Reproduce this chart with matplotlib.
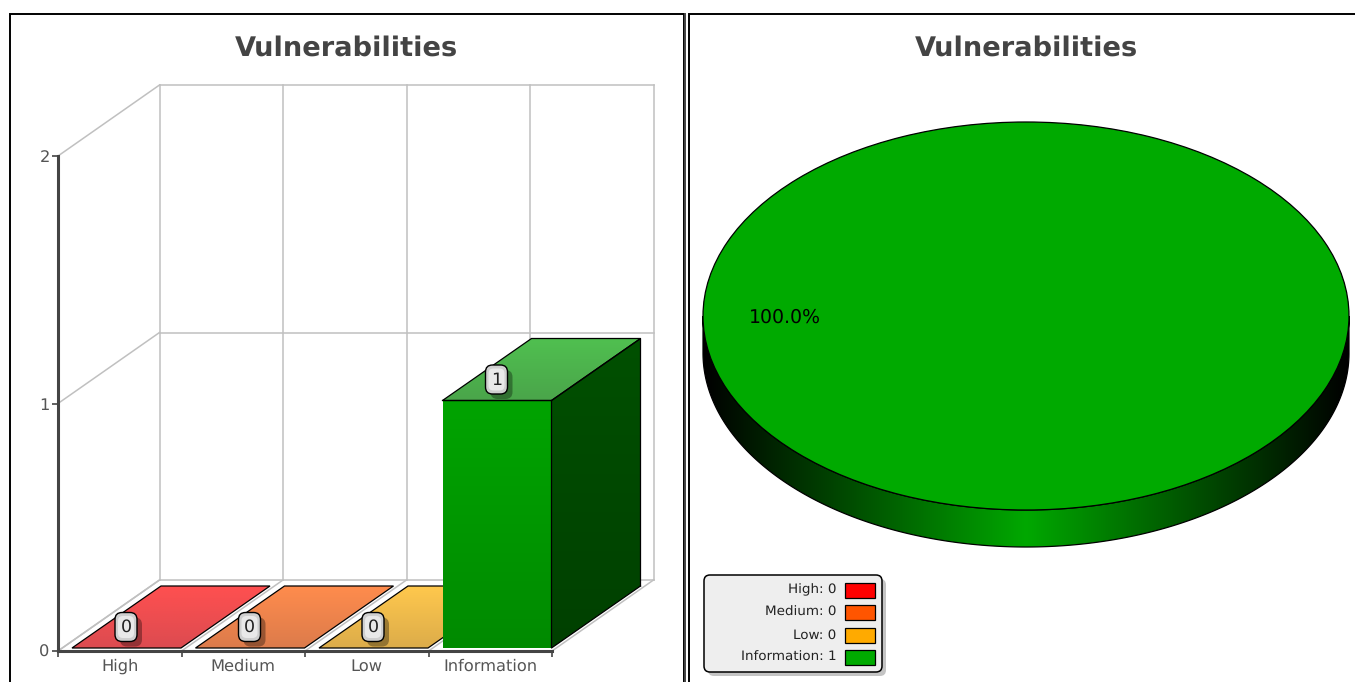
import matplotlib
matplotlib.use('Agg')
import matplotlib.pyplot as plt
import numpy as np
from matplotlib.colors import LinearSegmentedColormap
from matplotlib.patches import FancyBboxPatch, Polygon, Rectangle

plt.rcParams['text.hinting'] = 'no_hinting'

# Data
categories = ['High', 'Medium', 'Low', 'Information']
values = [0, 0, 0, 1]
y_ticks = [0, 1, 2]
pie_colors = ['#ff0000', '#ff5500', '#ffaa00', '#00aa00']
top_colors = [('#ff5050', '#dc4b50'), ('#ff8c4d', '#dc7b4b'),
              ('#ffc84d', '#dcac4a'), ('#50c050', '#4aa54a')]
title = 'Vulnerabilities'

W, H = 1355, 682
TEXT = '#555555'
GRID = '#c0c0c0'

fig = plt.figure(figsize=(W / 100, H / 100), dpi=100)


def px_axes(left, top, right, bottom):
    return fig.add_axes([left / W, 1 - bottom / H, (right - left) / W, (bottom - top) / H])


def gradient(ax, xy, colors, horizontal=False, zorder=2, steps=256):
    # fill a polygon with a linear gradient (vertical by default, first colour on top)
    xy = np.asarray(xy)
    cmap = LinearSegmentedColormap.from_list('g', colors)
    ramp = np.linspace(0, 1, steps)
    ramp = ramp.reshape(1, -1) if horizontal else ramp.reshape(-1, 1)
    extent = (xy[:, 0].min(), xy[:, 0].max(), xy[:, 1].min(), xy[:, 1].max())
    im = ax.imshow(ramp, cmap=cmap, extent=extent, origin='upper', aspect='auto',
                   zorder=zorder, interpolation='bilinear', vmin=0, vmax=1)
    # images fall back to the axes box unless they get a clip box of their own
    im.set_clip_box(fig.bbox)
    im.set_clip_path(Polygon(xy, closed=True, transform=ax.transData))


# Bar chart: the axes is the front plane of the 3D box, one x unit per category
ax = px_axes(58, 156, 552, 651)
ax.set_xlim(0, len(categories))
ax.set_ylim(0, 2)
unit_x = 494 / len(categories)
unit_y = 495 / 2

wall_dx, wall_dy = 101.5 / unit_x, 71 / unit_y
bar_dx, bar_dy = 89 / unit_x, 62 / unit_y
bar_off_x, bar_off_y = 14 / unit_x, 3 / unit_y
bar_w = 109 / unit_x

# grid walls
for k in range(len(categories) + 1):
    ax.plot([k + wall_dx, k + wall_dx], [wall_dy, 2 + wall_dy], color=GRID, lw=1.1, clip_on=False, zorder=1)
    ax.plot([k, k + wall_dx], [0, wall_dy], color=GRID, lw=1.1, clip_on=False, zorder=1)
for t in y_ticks:
    ax.plot([wall_dx, len(categories) + wall_dx], [t + wall_dy, t + wall_dy], color=GRID, lw=1.1, clip_on=False, zorder=1)
    ax.plot([0, wall_dx], [t, t + wall_dy], color=GRID, lw=1.1, clip_on=False, zorder=1)

# bars
label_pos = []
for i, v in enumerate(values):
    x0 = i + bar_off_x
    x1 = x0 + bar_w
    y0 = bar_off_y
    y1 = y0 + v
    top = [(x0, y1), (x1, y1), (x1 + bar_dx, y1 + bar_dy), (x0 + bar_dx, y1 + bar_dy)]
    z = 3 + i
    gradient(ax, top, [top_colors[i][0], top_colors[i][1]], zorder=z)
    ax.add_patch(Polygon(top, fc='none', ec='black', lw=0.9, clip_on=False, zorder=z + 0.1))
    if v > 0:
        front = [(x0, y0), (x1, y0), (x1, y1), (x0, y1)]
        side = [(x1, y0), (x1 + bar_dx, y0 + bar_dy), (x1 + bar_dx, y1 + bar_dy), (x1, y1)]
        gradient(ax, front, ['#00a400', '#008a00'], zorder=z)
        gradient(ax, side, ['#005000', '#004000'], zorder=z)
        ax.plot([x0, x1, x1 + bar_dx, x1 + bar_dx], [y1, y1, y1 + bar_dy, y0 + bar_dy], color='black', lw=0.9, clip_on=False, zorder=z + 0.2)
        ax.plot([x1, x1, x1 + bar_dx], [y1, y0, y0 + bar_dy], color='black', lw=0.9, clip_on=False, zorder=z + 0.2)
    label_pos.append(((x0 + x1) / 2, y1))

# axes lines and ticks
ax.patch.set_visible(False)
for s in ['top', 'right']:
    ax.spines[s].set_visible(False)
for s in ['left', 'bottom']:
    ax.spines[s].set_linewidth(2.2)
    ax.spines[s].set_color('#444444')
    ax.spines[s].set_zorder(20)
ax.set_xlim(0, len(categories))
ax.set_ylim(0, 2)
ax.set_yticks(y_ticks)
ax.set_yticklabels([str(t) for t in y_ticks], fontsize=11.7, color=TEXT)
ax.set_xticks(range(len(categories) + 1))
ax.set_xticklabels([])
ax.set_xticks(np.arange(len(categories)) + 0.5, minor=True)
ax.set_xticklabels(categories, minor=True, fontsize=11.7, color=TEXT, va='baseline')
ax.tick_params(axis='x', which='minor', length=0, pad=14.5)
ax.tick_params(axis='x', which='major', length=4, width=1.2, color='#444444')
ax.tick_params(axis='y', length=4, width=1.2, color='#444444', pad=2)

# Pie: the axes box is the ellipse bounding box
pie_ax = px_axes(703, 122, 1349, 510)
shown = [(v, c) for v, c in zip(values, pie_colors) if v > 0]
pie_depth = 37 / 194
theta = np.linspace(np.pi, 2 * np.pi, 400)
band = np.vstack([np.c_[np.cos(theta), np.sin(theta)],
                  np.c_[np.cos(theta[::-1]), np.sin(theta[::-1]) - pie_depth]])
wedges, _, pct = pie_ax.pie([s[0] for s in shown], colors=[s[1] for s in shown],
                            autopct='%1.1f%%', radius=1, startangle=0, pctdistance=0.746,
                            wedgeprops=dict(edgecolor='black', linewidth=0.9, clip_on=False, zorder=5),
                            textprops=dict(fontsize=13.6, color='black', zorder=6))
for p in pct:
    p.set_y(p.get_position()[1] - 1.5 / 194)
gradient(pie_ax, band, ['#000000', '#00a800', '#000000'], horizontal=True, zorder=1)
pie_ax.add_patch(Polygon(band, fc='none', ec='black', lw=0.9, clip_on=False, zorder=2))
pie_ax.set_aspect('auto')
pie_ax.set_xlim(-1, 1)
pie_ax.set_ylim(-1, 1)
pie_ax.set_axis_off()

# Overlay in pixel coordinates: frames, titles, value labels, legend
ov = fig.add_axes([0, 0, 1, 1])
ov.set_xlim(0, W)
ov.set_ylim(H, 0)
ov.set_axis_off()
ov.patch.set_visible(False)

ov.plot([9.5, 9.5, 684, 684], [H, 13.5, 13.5, H], color='black', lw=1.4, solid_joinstyle='miter')
ov.plot([688.5, 688.5, W], [H, 13.5, 13.5], color='black', lw=1.4, solid_joinstyle='miter')
ov.plot([685, 685], [14, H], color='#444444', lw=1.4)

ov.text(346, 48, title, ha='center', va='center', fontsize=19.6, fontweight='bold', color='#444444')
ov.text(1026, 48, title, ha='center', va='center', fontsize=19.6, fontweight='bold', color='#444444')

fig.canvas.draw()
for (x, y), v in zip(label_pos, values):
    px, py = ax.transData.transform((x, y))
    cx, cy = px - 0.5, H - py - 21
    ov.add_patch(FancyBboxPatch((cx, cy - 3.5), 10, 17, boxstyle='round,pad=6,rounding_size=7',
                                fc='black', ec='none', alpha=0.33, zorder=2))
    ov.add_patch(FancyBboxPatch((cx - 5, cy - 8.5), 10, 17, boxstyle='round,pad=6,rounding_size=7',
                                fc='#cfcfcf', ec='black', lw=1.0, zorder=3))
    ov.add_patch(FancyBboxPatch((cx - 4, cy - 7), 8, 14, boxstyle='round,pad=4,rounding_size=5',
                                fc='#e9e9e9', ec='none', zorder=3.1))
    ov.text(cx, cy + 0.5, str(v), ha='center', va='center', fontsize=12.5, color='#222222', zorder=4)

# legend
ov.add_patch(FancyBboxPatch((708, 579), 178, 97, boxstyle='round,pad=0,rounding_size=6',
                            fc='#c4c4c4', ec='none', zorder=2))
ov.add_patch(FancyBboxPatch((704, 575), 178, 97, boxstyle='round,pad=0,rounding_size=6',
                            fc='#eeeeee', ec='black', lw=1.1, zorder=3))
legend_y = [590, 612.5, 635, 657.5]
for name, v, c, y in zip(categories, values, pie_colors, legend_y):
    ov.text(836.5, y, f'{name}: {v}', ha='right', va='center', fontsize=9.7, color='#222222', zorder=4)
    ov.add_patch(Rectangle((845, y - 7.5), 30, 15, fc=c, ec='black', lw=0.9, zorder=4))

fig.savefig('out.png', dpi=100)
